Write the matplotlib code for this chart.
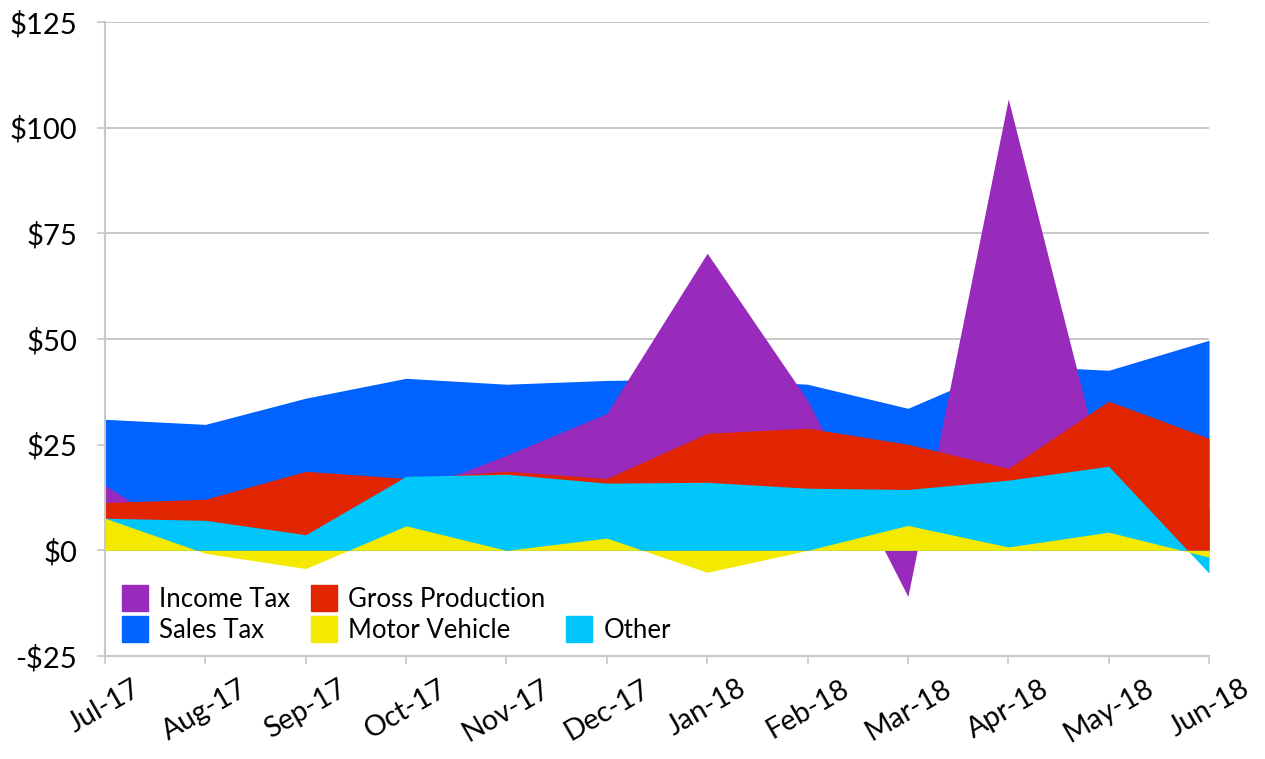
import numpy as np
import matplotlib.pyplot as plt
from matplotlib.patches import Patch

plt.rcParams['font.family'] = ['Lato', 'DejaVu Sans']

months = ["Jul-17", "Aug-17", "Sep-17", "Oct-17", "Nov-17", "Dec-17",
          "Jan-18", "Feb-18", "Mar-18", "Apr-18", "May-18", "Jun-18"]

sales_tax = [31.0, 29.8, 36.0, 40.7, 39.3, 40.2, 40.5, 39.3, 33.6, 43.8, 42.6, 49.7]
income_tax = [15.4, 0.5, 3.0, 13.3, 22.5, 32.4, 70.3, 35.5, -10.9, 106.8, 13.0, 10.0]
gross_production = [11.3, 12.1, 18.7, 17.0, 18.7, 17.0, 27.7, 28.9, 25.1, 19.4, 35.3, 26.5]
other = [7.6, 7.1, 3.7, 17.5, 18.0, 15.9, 16.1, 14.7, 14.4, 16.6, 19.9, -5.4]
motor_vehicle = [7.6, -0.7, -4.3, 5.8, 0.0, 2.9, -5.2, 0.0, 5.9, 0.8, 4.3, -1.6]

yticks = [-25, 0, 25, 50, 75, 100, 125]
ytick_labels = ["-$25", "$0", "$25", "$50", "$75", "$100", "$125"]

colors = {
    "Income Tax": "#992BBC",
    "Sales Tax": "#0063FF",
    "Gross Production": "#E02500",
    "Motor Vehicle": "#F4EA00",
    "Other": "#00C6FC",
}

fig = plt.figure(figsize=(12.65, 7.59), dpi=100)
ax = fig.add_axes([105 / 1265, 1 - 656 / 759, (1209 - 105) / 1265, (656 - 22) / 759])

x = np.arange(len(months))
# overlapping areas, back to front
for name, vals in [("Sales Tax", sales_tax), ("Income Tax", income_tax),
                   ("Gross Production", gross_production), ("Other", other),
                   ("Motor Vehicle", motor_vehicle)]:
    ax.fill_between(x, 0, vals, color=colors[name], linewidth=0, zorder=2)

ax.set_xlim(0, len(months) - 1)
ax.set_ylim(-25, 125)
ax.set_yticks(yticks)
ax.set_yticklabels(ytick_labels, fontsize=21)
ax.set_xticks(x)
ax.set_xticklabels(months, fontsize=20.5, rotation=30, ha="center")

ax.grid(axis="y", color="#BEBEBE", linewidth=1.2, zorder=0)
ax.axhline(0, color="#A8A8A8", linewidth=1.2, zorder=1)
ax.set_axisbelow(True)
for s in ["top", "right"]:
    ax.spines[s].set_visible(False)
for s in ["left", "bottom"]:
    ax.spines[s].set_color("#C8C8C8")
    ax.spines[s].set_linewidth(1.5)
ax.tick_params(axis="both", colors="#C8C8C8", labelcolor="black", length=6, width=1.2)
ax.tick_params(axis="y", pad=14)
ax.tick_params(axis="x", pad=8)

blank = Patch(facecolor="none", edgecolor="none")
handles = [Patch(color=colors["Income Tax"]), Patch(color=colors["Sales Tax"]),
           Patch(color=colors["Gross Production"]), Patch(color=colors["Motor Vehicle"]),
           blank, Patch(color=colors["Other"])]
labels = ["Income Tax", "Sales Tax", "Gross Production", "Motor Vehicle", "", "Other"]
fig.legend(handles, labels, ncol=3, loc="upper left",
           bbox_to_anchor=(122 / 1265, 1 - 585 / 759), frameon=False,
           fontsize=18.5, handlelength=1.0, handleheight=1.2, handletextpad=0.45,
           labelspacing=0.15, columnspacing=0.8, borderpad=0, borderaxespad=0)

fig.savefig("out.png", dpi=100)
